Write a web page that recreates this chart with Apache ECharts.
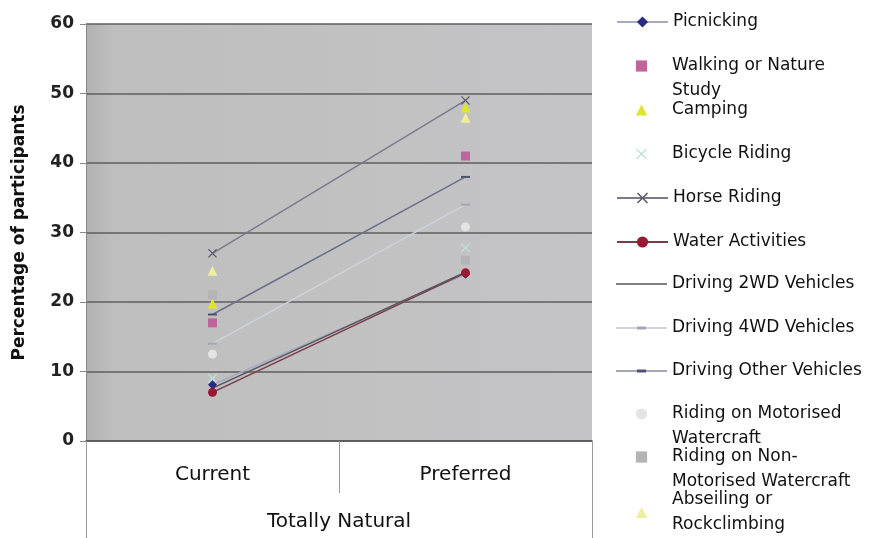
<!DOCTYPE html>
<html>
<head>
<meta charset="UTF-8">
<title>Totally Natural</title>
<script src="https://cdn.jsdelivr.net/npm/echarts@6/dist/echarts.min.js"></script>
<style>
  html, body { margin: 0; padding: 0; background: #fff; }
  #chart { width: 871px; height: 538px; }
</style>
</head>
<body>
<div id="chart"></div>
<script>
// values (percentage of participants)
var categories = ['Current', 'Preferred'];
var groupLabel = ['Totally Natural'];
var yTicks = [0, 10, 20, 30, 40, 50, 60];

var picnicking   = [8.1, 24.0];
var walking      = [17.0, 41.0];
var camping      = [19.8, 48.0];
var bicycle      = [9.0, 27.8];
var horse        = [27.0, 49.0];
var water        = [7.0, 24.2];
var drive2wd     = [7.6, 24.3];
var drive4wd     = [14.0, 34.0];
var driveOther   = [18.2, 38.0];
var motorised    = [12.5, 30.8];
var nonMotorised = [21.0, 26.0];
var abseiling    = [24.5, 46.5];

var FONT = 'DejaVu Sans';
var xShape = 'path://M0,1L1,0L5,4L9,0L10,1L6,5L10,9L9,10L5,6L1,10L0,9L4,5Z';
// legend icons: tiny corner points keep the 51x14 box so the path is not stretched
var corners = 'M0,0L0.05,0L0,0.05Z M0,14L0.05,14L0,13.95Z ';
var lineOnly = 'path://' + corners + 'M0,6.3L51,6.3L51,7.7L0,7.7Z';
var lineDash = 'path://' + corners + 'M0,6.5L51,6.5L51,7.5L0,7.5Z M21,5.6L30,5.6L30,8.4L21,8.4Z';

// name, data, marker, marker colour, line colour (null = markers only), legend text
// a leading blank line keeps the legend marker on the first text line
var defs = [
  ['Picnicking', picnicking, 'diamond', '#2b2b86', '#a9a9c0', 'Picnicking'],
  ['Walking or Nature Study', walking, 'rect', '#c2649c', null, ' \nWalking or Nature\nStudy'],
  ['Camping', camping, 'triangle', '#dce62a', null, 'Camping'],
  ['Bicycle Riding', bicycle, xShape, '#bfe3dc', null, 'Bicycle Riding'],
  ['Horse Riding', horse, xShape, '#5c5c70', '#7a7a8c', 'Horse Riding'],
  ['Water Activities', water, 'circle', '#9c1832', '#7a3a48', 'Water Activities'],
  ['Driving 2WD Vehicles', drive2wd, 'none', '#55555c', '#55555c', 'Driving 2WD Vehicles'],
  ['Driving 4WD Vehicles', drive4wd, 'rect', '#a4a6b8', '#d0d2dc', 'Driving 4WD Vehicles'],
  ['Driving Other Vehicles', driveOther, 'rect', '#4c5270', '#6a7088', 'Driving Other Vehicles'],
  ['Riding on Motorised Watercraft', motorised, 'circle', '#e4e4e4', null, ' \nRiding on Motorised\nWatercraft'],
  ['Riding on Non-Motorised Watercraft', nonMotorised, 'rect', '#b4b4b8', null, ' \nRiding on Non-\nMotorised Watercraft'],
  ['Abseiling or Rockclimbing', abseiling, 'triangle', '#eeee9c', null, 'Abseiling or\nRockclimbing']
];

// first-line centre of each legend entry
var legendY = [20, 64, 108, 152, 196, 240, 282, 326, 369, 412, 455, 498];

var series = defs.map(function (d) {
  var isDash = d[0].indexOf('Driving') === 0 && d[2] === 'rect';
  return {
    name: d[0],
    type: 'line',
    data: d[1],
    symbol: d[2],
    symbolSize: isDash ? [9, 2] : (d[2] === 'triangle' ? 10 : 9),
    showSymbol: d[2] !== 'none',
    itemStyle: { color: d[3] },
    lineStyle: d[4] ? { color: d[4], width: 1.5 } : { width: 0, opacity: 0 },
    emphasis: { disabled: true },
    z: d[4] ? 3 : 2
  };
});

var legends = defs.map(function (d, i) {
  var lead = d[5].charAt(0) === ' ' ? 25 : 0;
  var item = d[0];
  if (d[2] === 'none') item = { name: d[0], icon: lineOnly };
  else if (d[0].indexOf('Driving') === 0) item = { name: d[0], icon: lineDash };
  return {
    orient: 'vertical',
    left: 616,
    top: legendY[i] - 10.5 - lead,
    padding: 0,
    itemWidth: 51,
    itemHeight: 14,
    data: [item],
    selectedMode: false,
    formatter: function () { return d[5]; },
    textStyle: {
      fontFamily: FONT,
      fontSize: 17,
      color: '#111',
      lineHeight: 25
    }
  };
});

var chart = echarts.init(document.getElementById('chart'));
chart.setOption({
  animation: false,
  backgroundColor: '#fff',
  legend: legends,
  grid: {
    left: 86, right: 279, top: 24, bottom: 97,
    show: true,
    borderWidth: 0,
    backgroundColor: {
      type: 'linear', x: 0, y: 0, x2: 1, y2: 0,
      colorStops: [
        { offset: 0, color: '#b1b1b1' },
        { offset: 0.05, color: '#bebebe' },
        { offset: 1, color: '#c4c4c6' }
      ]
    }
  },
  xAxis: [{
    type: 'category',
    data: categories,
    boundaryGap: true,
    axisLine: { lineStyle: { color: '#555', width: 1.5 } },
    axisTick: { show: true, interval: 0, length: 52, lineStyle: { color: '#999' } },
    axisLabel: { margin: 24, fontFamily: FONT, fontSize: 20, color: '#111' },
    splitLine: { show: false }
  }, {
    type: 'category',
    data: groupLabel,
    position: 'bottom',
    axisLine: { show: false },
    axisTick: { show: true, interval: 0, length: 97, lineStyle: { color: '#999' } },
    axisLabel: { margin: 71, fontFamily: FONT, fontSize: 20, color: '#111' },
    splitLine: { show: false }
  }],
  yAxis: {
    type: 'value',
    min: yTicks[0],
    max: yTicks[yTicks.length - 1],
    interval: 10,
    name: 'Percentage of participants',
    nameLocation: 'middle',
    nameGap: 58,
    nameTextStyle: { fontFamily: FONT, fontSize: 17, fontWeight: 'bold', color: '#111' },
    axisLine: { show: true, lineStyle: { color: '#888' } },
    axisTick: { show: true, length: 6, lineStyle: { color: '#888' } },
    axisLabel: { margin: 12, fontFamily: FONT, fontSize: 17, fontWeight: 'bold', color: '#222' },
    splitLine: { lineStyle: { color: '#5e5e5e', width: 1.5 } }
  },
  series: series
});
</script>
</body>
</html>
